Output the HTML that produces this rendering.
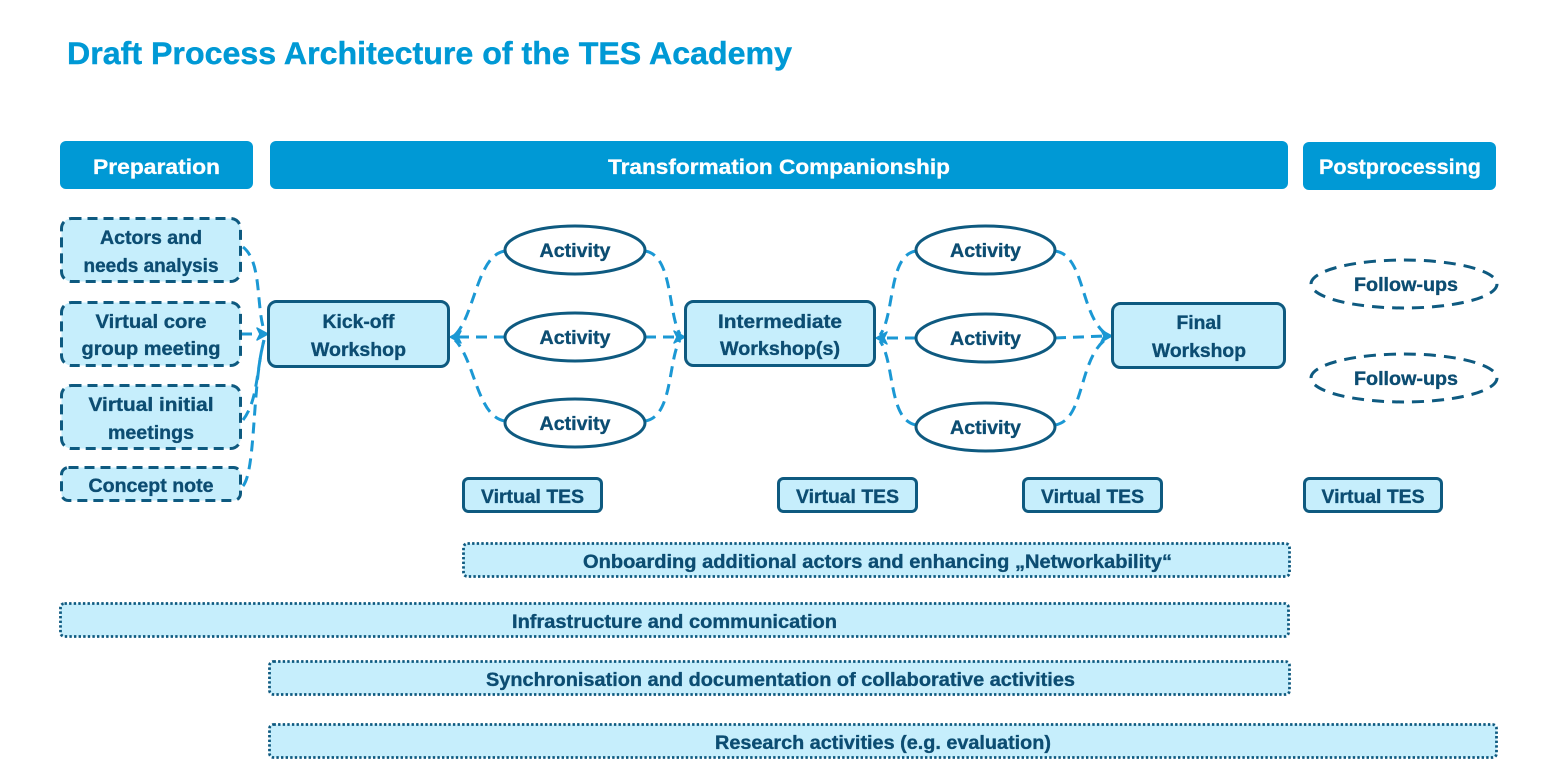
<!DOCTYPE html>
<html><head><meta charset="utf-8"><style>
html,body{margin:0;padding:0;background:#fff;}
svg{display:block;}
text{font-family:"Liberation Sans",sans-serif;font-weight:bold;}
.t{fill:#0c4d72;font-size:19.5px;stroke:#0c4d72;stroke-width:0.35px;}
.h{fill:#fff;font-size:21px;stroke:#fff;stroke-width:0.3px;}
</style></head><body>
<svg width="1545" height="775" viewBox="0 0 1545 775" xmlns="http://www.w3.org/2000/svg">
<!-- title -->
<text x="67" y="64" font-size="31.5" fill="#0099d5" stroke="#0099d5" stroke-width="0.4" textLength="725" lengthAdjust="spacingAndGlyphs">Draft Process Architecture of the TES Academy</text>

<!-- header bars -->
<rect x="60" y="141" width="193" height="48" rx="6" fill="#0099d5"/>
<rect x="270" y="141" width="1018" height="48" rx="6" fill="#0099d5"/>
<rect x="1303" y="142" width="193" height="48" rx="6" fill="#0099d5"/>
<text class="h" x="156.5" y="174" text-anchor="middle" textLength="127" lengthAdjust="spacingAndGlyphs">Preparation</text>
<text class="h" x="779" y="174" text-anchor="middle" textLength="342" lengthAdjust="spacingAndGlyphs">Transformation Companionship</text>
<text class="h" x="1400" y="174" text-anchor="middle" textLength="162" lengthAdjust="spacingAndGlyphs">Postprocessing</text>

<!-- connectors (behind) -->
<g fill="none" stroke="#1b98d4" stroke-width="3" stroke-dasharray="11 7">
  <path d="M243 247 C262 262, 256 305, 264 330"/>
  <path d="M241 334 L262 334"/>
  <path d="M243 420 C258 400, 256 372, 264 340"/>
  <path d="M243 486 C256 470, 252 385, 264 340"/>

  <path d="M505 251 C477 255, 475 315, 455 335"/>
  <path d="M505 337 L456 337"/>
  <path d="M505 421 C477 417, 475 360, 455 340"/>
  <path d="M645 251 C673 255, 668 315, 680 334"/>
  <path d="M645 337 L678 337"/>
  <path d="M645 421 C673 417, 668 360, 680 340"/>

  <path d="M916 251 C888 255, 895 315, 880 335"/>
  <path d="M916 338 L881 338"/>
  <path d="M916 425 C888 420, 895 362, 880 341"/>
  <path d="M1055 251 C1085 255, 1080 315, 1106 334"/>
  <path d="M1055 338 L1104 336"/>
  <path d="M1055 425 C1085 420, 1078 360, 1106 339"/>
</g>
<!-- arrowheads -->
<g fill="#1b98d4" stroke="#1b98d4" stroke-width="1.5" stroke-linejoin="round">
  <path d="M268 334 L257 328 L260 334 L257 340 Z"/>
  <path d="M450 337 L461 331 L458 337 L461 343 Z"/>
  <path d="M685 337 L674 331 L677 337 L674 343 Z"/>
  <path d="M876 338 L887 332 L884 338 L887 344 Z"/>
  <path d="M1112 336 L1101 330 L1104 336 L1101 342 Z"/>
</g>

<!-- prep boxes -->
<g fill="#c6eefc" stroke="#0e5a80" stroke-width="3" stroke-dasharray="10 6">
  <rect x="61.5" y="218.5" width="179" height="63" rx="10"/>
  <rect x="61.5" y="302.5" width="179" height="63" rx="10"/>
  <rect x="61.5" y="385.5" width="179" height="63" rx="10"/>
  <rect x="61.5" y="467.5" width="179" height="33" rx="7"/>
</g>
<text class="t" x="151" y="244" text-anchor="middle" textLength="102" lengthAdjust="spacingAndGlyphs">Actors and</text>
<text class="t" x="151" y="272" text-anchor="middle" textLength="135" lengthAdjust="spacingAndGlyphs">needs analysis</text>
<text class="t" x="151" y="328" text-anchor="middle" textLength="111" lengthAdjust="spacingAndGlyphs">Virtual core</text>
<text class="t" x="151" y="355" text-anchor="middle" textLength="139" lengthAdjust="spacingAndGlyphs">group meeting</text>
<text class="t" x="151" y="411" text-anchor="middle" textLength="125" lengthAdjust="spacingAndGlyphs">Virtual initial</text>
<text class="t" x="151" y="439" text-anchor="middle" textLength="86" lengthAdjust="spacingAndGlyphs">meetings</text>
<text class="t" x="151" y="492" text-anchor="middle" textLength="125" lengthAdjust="spacingAndGlyphs">Concept note</text>

<!-- workshops -->
<g fill="#c6eefc" stroke="#0e5a80" stroke-width="3">
  <rect x="268.5" y="301.5" width="180" height="65" rx="8"/>
  <rect x="685.5" y="301.5" width="189" height="64" rx="8"/>
  <rect x="1112.5" y="303.5" width="172" height="64" rx="8"/>
</g>
<text class="t" x="358.5" y="328" text-anchor="middle" textLength="72" lengthAdjust="spacingAndGlyphs">Kick-off</text>
<text class="t" x="358.5" y="356" text-anchor="middle" textLength="95" lengthAdjust="spacingAndGlyphs">Workshop</text>
<text class="t" x="780" y="328" text-anchor="middle" textLength="124" lengthAdjust="spacingAndGlyphs">Intermediate</text>
<text class="t" x="780" y="355" text-anchor="middle" textLength="120" lengthAdjust="spacingAndGlyphs">Workshop(s)</text>
<text class="t" x="1199" y="329" text-anchor="middle" textLength="45" lengthAdjust="spacingAndGlyphs">Final</text>
<text class="t" x="1199" y="357" text-anchor="middle" textLength="94" lengthAdjust="spacingAndGlyphs">Workshop</text>

<!-- activities -->
<g fill="#fff" stroke="#0e5a80" stroke-width="3">
  <ellipse cx="575" cy="250" rx="70" ry="24"/>
  <ellipse cx="575" cy="337" rx="70" ry="24"/>
  <ellipse cx="575" cy="423" rx="70" ry="24"/>
  <ellipse cx="985.5" cy="250" rx="69.5" ry="24"/>
  <ellipse cx="985.5" cy="338" rx="69.5" ry="24"/>
  <ellipse cx="985.5" cy="427" rx="69.5" ry="24"/>
</g>
<text class="t" x="575" y="257" text-anchor="middle" textLength="71" lengthAdjust="spacingAndGlyphs">Activity</text>
<text class="t" x="575" y="344" text-anchor="middle" textLength="71" lengthAdjust="spacingAndGlyphs">Activity</text>
<text class="t" x="575" y="430" text-anchor="middle" textLength="71" lengthAdjust="spacingAndGlyphs">Activity</text>
<text class="t" x="985.5" y="257" text-anchor="middle" textLength="71" lengthAdjust="spacingAndGlyphs">Activity</text>
<text class="t" x="985.5" y="345" text-anchor="middle" textLength="71" lengthAdjust="spacingAndGlyphs">Activity</text>
<text class="t" x="985.5" y="434" text-anchor="middle" textLength="71" lengthAdjust="spacingAndGlyphs">Activity</text>

<!-- follow-ups -->
<g fill="#fff" stroke="#0e5a80" stroke-width="3" stroke-dasharray="12 8">
  <ellipse cx="1404" cy="284" rx="93" ry="24"/>
  <ellipse cx="1404" cy="378" rx="93" ry="24"/>
</g>
<text class="t" x="1406" y="291" text-anchor="middle" textLength="104" lengthAdjust="spacingAndGlyphs">Follow-ups</text>
<text class="t" x="1406" y="385" text-anchor="middle" textLength="104" lengthAdjust="spacingAndGlyphs">Follow-ups</text>

<!-- virtual TES -->
<g fill="#c6eefc" stroke="#0e5a80" stroke-width="3">
  <rect x="463.5" y="478.5" width="138" height="33" rx="5"/>
  <rect x="778.5" y="478.5" width="138" height="33" rx="5"/>
  <rect x="1023.5" y="478.5" width="138" height="33" rx="5"/>
  <rect x="1304.5" y="478.5" width="137" height="33" rx="5"/>
</g>
<text class="t" x="532.5" y="503" text-anchor="middle" textLength="103" lengthAdjust="spacingAndGlyphs">Virtual TES</text>
<text class="t" x="847.5" y="503" text-anchor="middle" textLength="103" lengthAdjust="spacingAndGlyphs">Virtual TES</text>
<text class="t" x="1092.5" y="503" text-anchor="middle" textLength="103" lengthAdjust="spacingAndGlyphs">Virtual TES</text>
<text class="t" x="1373" y="503" text-anchor="middle" textLength="103" lengthAdjust="spacingAndGlyphs">Virtual TES</text>

<!-- dotted bars -->
<g fill="#c6eefc" stroke="#0e5a80" stroke-width="2.8" stroke-dasharray="2.4 2.2">
  <rect x="463.5" y="543.5" width="826" height="33" rx="4"/>
  <rect x="60.5" y="603.5" width="1228" height="33" rx="4"/>
  <rect x="269.5" y="661.5" width="1020" height="33" rx="4"/>
  <rect x="269.5" y="724.5" width="1227" height="33" rx="4"/>
</g>
<text class="t" x="877.5" y="568" text-anchor="middle" textLength="589" lengthAdjust="spacingAndGlyphs">Onboarding additional actors and enhancing „Networkability“</text>
<text class="t" x="674.5" y="628" text-anchor="middle" textLength="325" lengthAdjust="spacingAndGlyphs">Infrastructure and communication</text>
<text class="t" x="780.5" y="686" text-anchor="middle" textLength="589" lengthAdjust="spacingAndGlyphs">Synchronisation and documentation of collaborative activities</text>
<text class="t" x="883" y="749" text-anchor="middle" textLength="336" lengthAdjust="spacingAndGlyphs">Research activities (e.g. evaluation)</text>
</svg>
</body></html>
